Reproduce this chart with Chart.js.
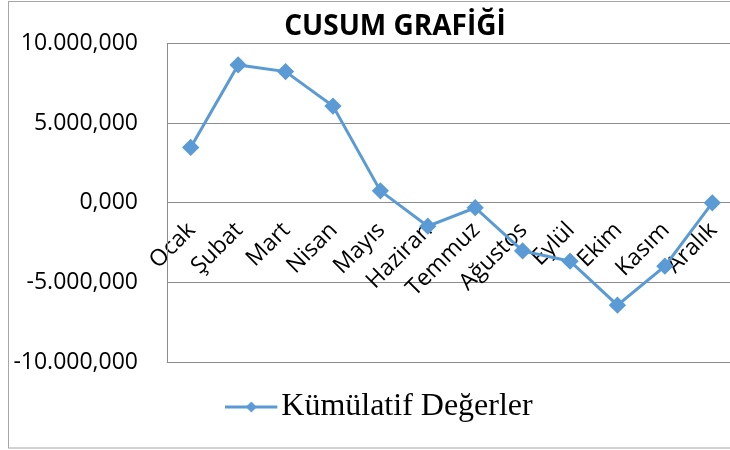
<!DOCTYPE html>
<html>
<head>
<meta charset="utf-8">
<script src="https://cdn.jsdelivr.net/npm/chart.js@4.4.1/dist/chart.umd.min.js"></script>
<style>
  body { margin: 0; overflow: hidden; background: #fff; }
  #wrap { position: absolute; left: 0; top: 0; width: 790px; height: 450px; }
</style>
</head>
<body>
<div id="wrap"><canvas id="grafik"></canvas></div>
<script>
// aylar ve kümülatif değerler
const aylar = ["Ocak", "Şubat", "Mart", "Nisan", "Mayıs", "Haziran", "Temmuz", "Ağustos", "Eylül", "Ekim", "Kasım", "Aralık"];
const kumulatif = [3480, 8660, 8240, 6080, 750, -1470, -310, -3020, -3670, -6430, -3980, 0];
const yTikler = [-10000, -5000, 0, 5000, 10000];

const mavi = "#5B9BD5";

// 10.000,000 biçimi
function sayiBicim(v) {
    const neg = v < 0;
    let s = Math.abs(Math.round(v)).toString();
    s = s.replace(/\B(?=(\d{3})+(?!\d))/g, ".");
    return (neg ? "-" : "") + s + ",000";
}

// legend için çizgi + elmas
const lejantIkon = document.createElement("canvas");
lejantIkon.width = 72;
lejantIkon.height = 16;
(function () {
    const c = lejantIkon.getContext("2d");
    c.strokeStyle = mavi;
    c.lineWidth = 3;
    c.beginPath();
    c.moveTo(0, 8);
    c.lineTo(52, 8);
    c.stroke();
    c.fillStyle = mavi;
    c.beginPath();
    c.moveTo(26, 2.5);
    c.lineTo(31.5, 8);
    c.lineTo(26, 13.5);
    c.lineTo(20.5, 8);
    c.closePath();
    c.fill();
})();

const cerceve = {
    id: "cerceve",
    afterDraw(chart) {
        const c = chart.ctx;
        c.save();
        c.strokeStyle = "#a6a6a6";
        c.lineWidth = 1;
        c.strokeRect(8.5, 1.5, 800, 446.5);
        c.restore();
    }
};

new Chart(document.getElementById("grafik").getContext("2d"), {
    type: "line",
    data: {
        labels: aylar,
        datasets: [{
            label: "Kümülatif Değerler",
            data: kumulatif,
            borderColor: mavi,
            backgroundColor: mavi,
            borderWidth: 3,
            pointStyle: "rectRot",
            pointRadius: 6.5,
            pointHoverRadius: 6.5,
            tension: 0,
            fill: false
        }]
    },
    options: {
        responsive: true,
        maintainAspectRatio: false,
        animation: false,
        events: [],
        layout: { padding: { left: 0, right: 0, top: 0, bottom: 17 } },
        plugins: {
            title: {
                display: true,
                text: "CUSUM GRAFİĞİ",
                color: "#000",
                font: { family: "Open Sans", size: 28, weight: "bold" },
                padding: { top: 10, bottom: 0 }
            },
            legend: {
                position: "bottom",
                labels: {
                    usePointStyle: true,
                    pointStyleWidth: 8,
                    padding: 29,
                    color: "#000",
                    font: { family: "Liberation Serif", size: 32 },
                    generateLabels(chart) {
                        const items = Chart.defaults.plugins.legend.labels.generateLabels(chart);
                        items.forEach(it => { it.pointStyle = lejantIkon; });
                        return items;
                    }
                }
            },
            tooltip: { enabled: false }
        },
        scales: {
            x: {
                position: { y: 0 },
                offset: true,
                grid: { display: false, drawTicks: false },
                border: { display: false },
                ticks: {
                    autoSkip: false,
                    maxRotation: 45,
                    minRotation: 45,
                    padding: 14,
                    labelOffset: 1,
                    color: "#000",
                    font: { family: "Open Sans", size: 23 }
                }
            },
            y: {
                min: -10000,
                max: 10000,
                afterFit(scale) { scale.width = 167; },
                afterBuildTicks(scale) { scale.ticks = yTikler.map(v => ({ value: v })); },
                grid: { color: "#8c8c8c", lineWidth: 1, drawTicks: false },
                border: { display: true, color: "#8c8c8c", width: 1 },
                ticks: {
                    padding: 29,
                    color: "#000",
                    font: { family: "Open Sans", size: 23 },
                    callback: v => sayiBicim(v)
                }
            },
            // sağda boş alan: başlık ortalaması için
            ySag: {
                position: "right",
                display: true,
                afterFit(scale) { scale.width = 54; },
                grid: { display: false, drawTicks: false },
                border: { display: false },
                ticks: { display: false }
            }
        }
    },
    plugins: [cerceve]
});
</script>
</body>
</html>
